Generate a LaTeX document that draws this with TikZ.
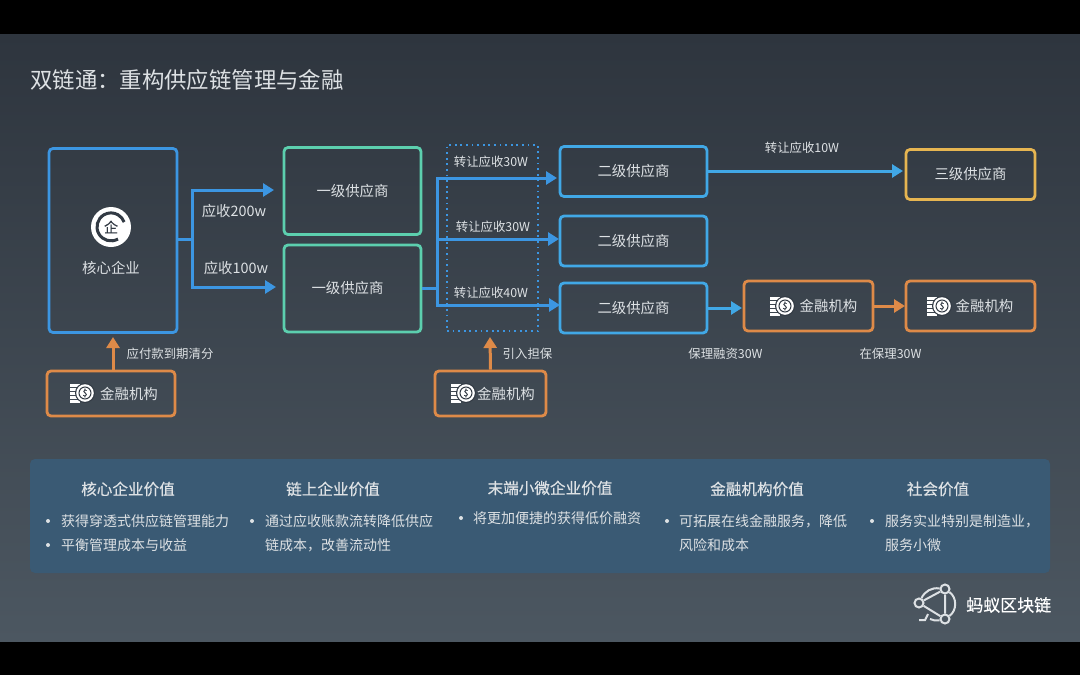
\documentclass[tikz,border=0pt]{standalone}
\usepackage{fontspec}
\setmainfont{Noto Sans CJK SC}
\newfontfamily\headfont[FakeBold=0.4]{Noto Sans CJK SC}
\usetikzlibrary{arrows.meta}

\definecolor{coreblue}{HTML}{3C96E2}
\definecolor{tealline}{HTML}{5CCFAE}
\definecolor{skyline}{HTML}{41A8E6}
\definecolor{goldline}{HTML}{E6B551}
\definecolor{orangeline}{HTML}{DE8A48}
\definecolor{textgrey}{HTML}{DDE1E4}
\definecolor{panelblue}{HTML}{3A5A74}
\definecolor{bgtop}{HTML}{2E353E}
\definecolor{bgbottom}{HTML}{4C5761}
\definecolor{iconbg}{HTML}{323A44}

\tikzset{
	box/.style={draw, line width=2.8pt, rounded corners=4pt, text=textgrey, font=\fontsize{14.4}{17}\selectfont},
	corebox/.style={box, draw=coreblue, minimum width=128pt, minimum height=184pt},
	tieronebox/.style={box, draw=tealline, minimum width=137pt, minimum height=87pt},
	tiertwobox/.style={box, draw=skyline, minimum width=147pt, minimum height=50pt},
	tierthreebox/.style={box, draw=goldline, minimum width=129pt, minimum height=50pt},
	bankbox/.style={box, draw=orangeline, minimum height=45pt},
	flowarrow/.style={line width=3pt, -{Triangle[length=11pt,width=13pt]}},
	flowbranch/.style={line width=3pt},
	lbl/.style={text=textgrey, inner sep=0pt, font=\fontsize{12.4}{15}\selectfont},
	lblbig/.style={lbl, font=\fontsize{14.4}{17}\selectfont},
	headlbl/.style={lbl, font=\headfont\fontsize{15.6}{18}\selectfont},
	itemlbl/.style={lbl, anchor=west, align=left, font=\fontsize{14}{24}\selectfont},
	itemdot/.style={circle, fill=textgrey, inner sep=0pt, minimum size=4pt},
	coinicon/.pic={
		\foreach \bary in {-8,-4,0,4,8}
			\fill[white] (-11,\bary-1.5) rectangle (-1,\bary+1.5);
		\fill[iconbg] (4,0) circle (10pt);
		\fill[white] (4,0) circle (8.8pt);
		\draw[iconbg, line width=1pt] (4,0) circle (6pt);
		\node[inner sep=0pt, text=iconbg, font=\headfont\fontsize{9}{9}\selectfont] at (4,0) {\$};
	}
}

\begin{document}
\begin{tikzpicture}[x=1pt,y=-1pt]

	\useasboundingbox (0,0) rectangle (1080,675);

	% Fond
	\fill[black] (0,0) rectangle (1080,675);
	\shade[top color=bgtop, bottom color=bgbottom] (0,34) rectangle (1080,641);

	% Titre
	\node[lbl, anchor=west, font=\fontsize{22.4}{26}\selectfont] (title) at (30,80) {双链通：重构供应链管理与金融};

	% Entreprise centrale
	\node[corebox] (core) at (113,240.5) {};
	\fill[white] (111,227) circle (20pt);
	\draw[iconbg, line width=3pt] (118,239) arc[start angle=-60, end angle=-340, radius=14pt];
	\node[inner sep=0pt, text=iconbg, font=\headfont\fontsize{14}{14}\selectfont] (coreicon) at (111,227) {企};
	\node[lblbig] (corelabel) at (111,268) {核心企业};

	% Fournisseurs
	\node[tieronebox] (tierone) at (352.5,191) {\raisebox{-1pt}{一级供应商}};
	\node[tieronebox] (tieronelow) at (352.5,288.5) {\hspace*{-10pt}一级供应商};
	\node[tiertwobox] (tiertwoa) at (633.5,171.5) {\raisebox{-1pt}{二级供应商}};
	\node[tiertwobox] (tiertwob) at (633.5,241) {二级供应商};
	\node[tiertwobox] (tiertwoc) at (633.5,308) {\raisebox{-2pt}{二级供应商}};
	\node[tierthreebox] (tierthree) at (970.5,174.5) {三级供应商};

	% Institutions
	\node[bankbox, minimum width=128pt] (bankcore) at (111,393.5) {\hspace*{36pt}金融机构};
	\node[bankbox, minimum width=111pt] (bankguar) at (490.5,393.5) {\hspace*{31pt}金融机构};
	\node[bankbox, minimum width=129pt, minimum height=50pt] (bankfact) at (808.5,306) {\hspace*{40pt}金融机构};
	\node[bankbox, minimum width=129pt, minimum height=50pt] (bankrefact) at (970.5,306) {\hspace*{28pt}金融机构};
	\pic at (81,393) {coinicon};
	\pic at (462,393) {coinicon};
	\pic at (781,306) {coinicon};
	\pic at (938,306) {coinicon};

	% Cadre pointille
	\node[draw=coreblue, dash pattern=on 1.8pt off 3.8pt, line width=1.8pt, minimum width=91pt, minimum height=186pt, inner sep=0pt] (guarzone) at (492.5,238) {};

	% Fleches depuis le coeur
	\coordinate (coresplit) at (192,239);
	\coordinate (tipone) at (274,190);
	\coordinate (tiponelow) at (276,287);
	\draw[flowbranch, draw=coreblue] (core.east |- coresplit) -- (coresplit);
	\draw[flowarrow, draw=coreblue] (coresplit) |- (tipone);
	\draw[flowarrow, draw=coreblue] (coresplit) |- (tiponelow);

	% Fleches vers le second rang
	\coordinate (tiersplit) at (437,288);
	\coordinate (tiptwoa) at (557,178);
	\coordinate (tiptwob) at (559,239);
	\coordinate (tiptwoc) at (560,305);
	\coordinate (tipthree) at (903,171);
	\draw[flowbranch, draw=coreblue] (tieronelow.east |- tiersplit) -- (tiersplit);
	\draw[flowarrow, draw=coreblue] (tiersplit) |- (tiptwoa);
	\draw[flowarrow, draw=coreblue] (tiersplit) |- (tiptwob);
	\draw[flowarrow, draw=coreblue] (tiersplit) |- (tiptwoc);
	\draw[flowarrow, draw=skyline] (tiertwoa.east |- tipthree) -- (tipthree);

	% Fleches affacturage
	\coordinate (tipfact) at (742,308);
	\coordinate (tiprefact) at (905,306);
	\draw[flowarrow, draw=skyline] (tiertwoc.east) -- (tipfact);
	\draw[flowarrow, draw=orangeline] (bankfact.east) -- (tiprefact);

	% Fleches orange vers le haut
	\coordinate (tipcore) at (113,337);
	\coordinate (tipguar) at (490,337);
	\draw[flowarrow, draw=orangeline] (bankcore.north -| tipcore) -- (tipcore);
	\draw[flowarrow, draw=orangeline] (bankguar.north) -- (tipguar);

	% Etiquettes
	\node[lblbig] (lblpaya) at (234,211) {应收200w};
	\node[lblbig] (lblpayb) at (236,268) {应收100w};
	\node[lbl] (lblclear) at (170,354) {应付款到期清分};
	\node[lbl] (lbltransa) at (491,162) {转让应收30W};
	\node[lbl] (lbltransb) at (493,227) {转让应收30W};
	\node[lbl] (lbltransc) at (491,293) {转让应收40W};
	\node[lbl] (lbltransd) at (802,148) {转让应收10W};
	\node[lbl] (lblguar) at (527.5,354) {引入担保};
	\node[lbl] (lblfact) at (725.5,354) {保理融资30W};
	\node[lbl] (lblrefact) at (890.5,354) {在保理30W};

	% Panneau du bas
	\fill[panelblue, rounded corners=5pt] (30,459) rectangle (1050,573);

	\node[headlbl] (headcore) at (128,489) {核心企业价值};
	\node[headlbl] (headchain) at (333,489) {链上企业价值};
	\node[headlbl] (headsmall) at (550,488) {末端小微企业价值};
	\node[headlbl] (headbank) at (757,489) {金融机构价值};
	\node[headlbl] (headsocial) at (938,489) {社会价值};

	\node[itemdot] (dota) at (48,521) {};
	\node[itemdot] (dotb) at (48,545) {};
	\node[itemdot] (dotc) at (252,521) {};
	\node[itemdot] (dotd) at (461,518) {};
	\node[itemdot] (dote) at (667,521) {};
	\node[itemdot] (dotf) at (872,521) {};

	\node[itemlbl] (itema) at (61,521) {获得穿透式供应链管理能力};
	\node[itemlbl] (itemb) at (61,545) {平衡管理成本与收益};
	\node[itemlbl] (itemc) at (265,533) {通过应收账款流转降低供应\\链成本，改善流动性};
	\node[itemlbl] (itemd) at (473,518) {将更加便捷的获得低价融资};
	\node[itemlbl] (iteme) at (679,533) {可拓展在线金融服务，降低\\风险和成本};
	\node[itemlbl] (itemf) at (885,533) {服务实业特别是制造业，\\服务小微};

	% Logo
	\node[circle, draw=textgrey, line width=2pt, inner sep=0pt, minimum size=9pt] (logoleft) at (919,603) {};
	\node[circle, draw=textgrey, line width=2pt, inner sep=0pt, minimum size=9pt] (logotop) at (945,589) {};
	\node[circle, draw=textgrey, line width=2pt, inner sep=0pt, minimum size=9pt] (logolow) at (945,619) {};
	\draw[textgrey, line width=2pt] (logoleft) -- (logotop) -- (logolow) -- (logoleft);
	\draw[textgrey, line width=2pt] (logoleft) to[bend left=35] (logotop);
	\draw[textgrey, line width=2pt] (logotop) to[bend left=55] (logolow);
	\draw[textgrey, line width=2pt] (logolow) to[bend left=15] (930,619);
	\draw[textgrey, line width=2pt] (928,614) -- (925,620) -- (919,620);
	\node[lbl, anchor=west, text=white, font=\headfont\fontsize{17}{20}\selectfont] (logotext) at (966,605) {蚂蚁区块链};

\end{tikzpicture}
\end{document}
